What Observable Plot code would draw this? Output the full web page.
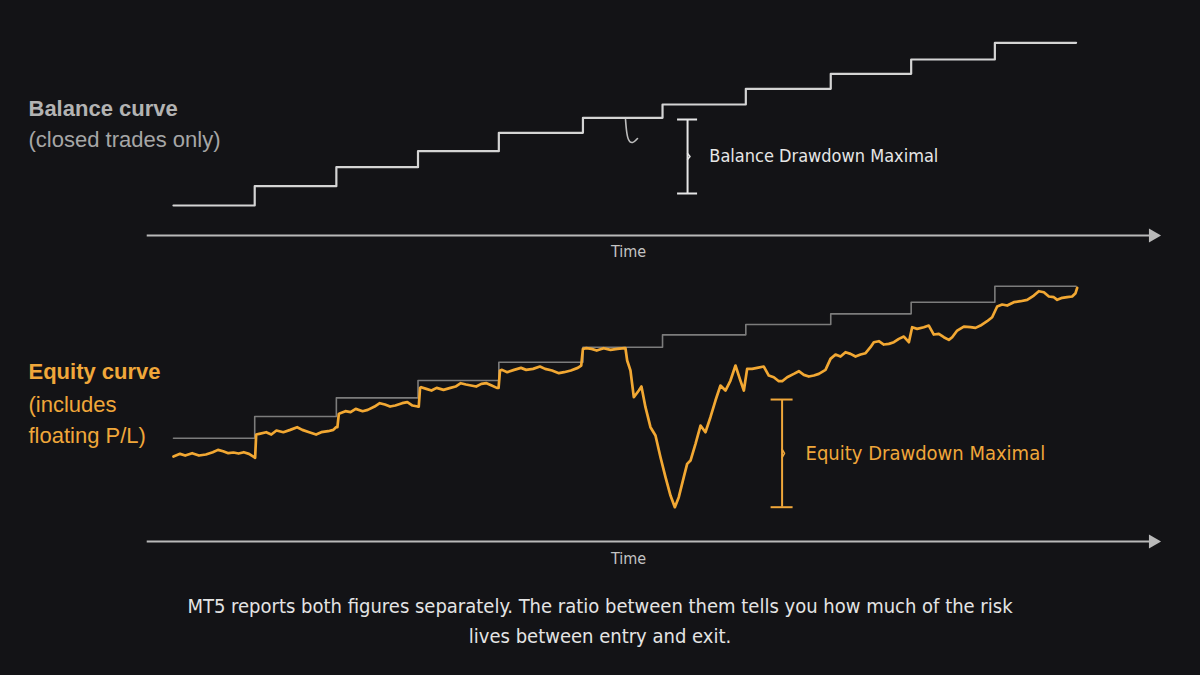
<!DOCTYPE html>
<html>
<head>
<meta charset="utf-8">
<script src="https://cdn.jsdelivr.net/npm/d3@7"></script>
<script src="https://cdn.jsdelivr.net/npm/@observablehq/plot@0.6"></script>
<style>
  html, body { margin: 0; padding: 0; background: #131316; width: 1200px; height: 675px; overflow: hidden; }
  #caption { font-family: "Liberation Sans Narrow", "DejaVu Sans Condensed", "Liberation Sans", sans-serif;
    font-size: 20px; line-height: 30px; color: #e4e4e4; text-align: center; width: 1200px; padding-top: 11px; }
</style>
</head>
<body>
<div id="topChart"></div>
<div id="bottomChart"></div>
<div id="caption">MT5 reports both figures separately. The ratio between them tells you how much of the risk<br>lives between entry and exit.</div>
<script>
// ---- data (time in trading days, money in account currency) ----
const stepTimes = [0, 9.9, 19.85, 29.8, 39.65, 49.9, 59.6, 69.75, 80.1, 89.9, 100.1];
const endTime = 110;
const balanceTop = [10000, 10580, 11150, 11630, 12180, 12630, 13030, 13500, 13950, 14380, 14880];
const balanceBottom = [10000, 10650, 11210, 11730, 12280, 12730, 13100, 13410, 13730, 14080, 14560];
const balanceHook = [[55.09, 12580], [55.21, 12250], [55.45, 11980], [55.94, 11890], [56.55, 12010]];
const equity = [
  [0, 9450], [0.8, 9530], [1.43, 9480], [2.27, 9550], [3.11, 9480], [3.95, 9510], [4.79, 9580], [5.42, 9650],
  [6.05, 9610], [6.68, 9550], [7.31, 9570], [7.94, 9540], [8.57, 9580], [9.2, 9530], [9.83, 9430], [9.95, 9410],
  [10.08, 10110], [10.45, 10130], [11.3, 10180], [11.92, 10110], [12.55, 10230], [13.39, 10180], [14.23, 10250],
  [15.07, 10330], [15.7, 10250], [16.54, 10180], [17.38, 10110], [18.01, 10180], [18.85, 10210], [19.48, 10250],
  [19.81, 10330], [19.98, 10330],
  [20.15, 10730], [20.32, 10750], [20.95, 10810], [21.58, 10780], [22.21, 10880], [23.05, 10810], [23.68, 10850],
  [24.51, 10950], [25.14, 11050], [25.77, 11010], [26.4, 10950], [27.03, 10980], [27.87, 11050], [28.5, 11080],
  [29.13, 10980], [29.76, 10950], [29.89, 10950],
  [30.05, 11510], [30.18, 11530], [30.81, 11480], [31.44, 11430], [32.07, 11510], [32.91, 11450], [33.75, 11510],
  [34.38, 11550], [35.01, 11650], [35.64, 11610], [36.26, 11580], [36.89, 11550], [37.52, 11630], [38.15, 11650],
  [38.78, 11580], [39.41, 11510], [39.62, 11510],
  [39.79, 12030], [40.04, 12050], [40.67, 11980], [41.51, 12050], [42.35, 12110], [42.98, 12050], [43.82, 12080],
  [44.66, 12150], [45.29, 12080], [46.13, 12030], [46.97, 11950], [47.6, 11980], [48.43, 12030], [49.27, 12110],
  [49.69, 12180],
  [49.9, 12680], [50.32, 12700], [50.95, 12680], [51.58, 12630], [52.42, 12700], [53.26, 12650], [54.1, 12680],
  [54.94, 12700], [55.08, 12700],
  [55.29, 12330], [55.69, 12030], [56.1, 11230], [56.71, 11430], [57.03, 11550], [57.52, 10930], [58.13, 10330],
  [58.74, 10080], [59.35, 9430], [59.96, 8830], [60.57, 8280], [61.1, 7930], [61.58, 8230], [62.19, 8830],
  [62.6, 9230], [63.01, 9330], [63.62, 9830], [64.23, 10380], [64.83, 10180], [65.44, 10630], [66.05, 11130],
  [66.66, 11580], [67.27, 11430], [67.88, 11730], [68.49, 12180], [69.02, 11780], [69.51, 11430], [69.91, 12080],
  [70.52, 12080], [71.13, 12110], [71.94, 12150], [72.55, 11880], [73.16, 11830], [73.77, 11710], [74.18, 11710],
  [74.79, 11830], [75.6, 11930], [76.21, 12010], [76.82, 11900], [77.43, 11850], [78.04, 11880], [78.65, 11930],
  [79.46, 12050], [80.07, 12380], [80.68, 12510], [81.29, 12450], [81.9, 12580], [82.51, 12530], [83.12, 12450],
  [83.73, 12510], [84.34, 12550], [84.94, 12730], [85.35, 12880], [85.96, 12910], [86.57, 12810], [87.18, 12830],
  [87.79, 12880], [88.4, 12980], [89.01, 13050], [89.62, 12880], [90.02, 13330], [90.63, 13280], [91.44, 13330],
  [92.05, 13380], [92.66, 13110], [93.27, 13130], [93.88, 13030], [94.49, 12950], [94.9, 13030], [95.51, 13230],
  [96.32, 13350], [97.13, 13330], [97.74, 13310], [98.35, 13380], [99.16, 13510], [99.77, 13630], [100.38, 13950],
  [100.99, 14010], [101.6, 13980], [102.41, 14080], [103.23, 14110], [104.04, 14150], [104.85, 14280],
  [105.46, 14410], [106.07, 14380], [106.68, 14250], [107.29, 14230], [107.7, 14150], [108.31, 14210],
  [108.91, 14230], [109.52, 14250], [109.93, 14350], [110.13, 14510]
];
const balanceDD = {t: 62.65, high: 12580, low: 10360};
const equityDD = {t: 74.17, high: 11160, low: 7930};
const axisStart = -3.2, axisEnd = 119, arrowTip = 119.37;
const labels = {
  balance: ["Balance curve", "(closed trades only)"],
  equity: ["Equity curve", "(includes", "floating P/L)"],
  time: "Time",
  balanceDD: "Balance Drawdown Maximal",
  equityDD: "Equity Drawdown Maximal"
};

// ---- styling ----
const C = {
  balance: "#d4d4d4", balanceGhost: "#7c7c7c", equity: "#f2a833", axis: "#b9b9b9",
  text: "#e6e6e6", label: "#b3b3b3", sub: "#a6a6a6", orange: "#f0a73a"
};
const narrow = "'Liberation Sans Narrow', 'DejaVu Sans Condensed', 'Liberation Sans', sans-serif";
const sans = "'Liberation Sans', Arial, sans-serif";
const xScale = {domain: [-21.08, 125.16], axis: null};

const steps = (vals) => stepTimes.map((t, i) => ({t, v: vals[i]}))
  .concat([{t: endTime, v: vals[vals.length - 1]}]);

function timeAxis(yv, labelY) {
  return [
    Plot.ruleY([yv], {x1: axisStart, x2: axisEnd, stroke: C.axis, strokeWidth: 2}),
    Plot.dot([{t: arrowTip, v: yv}], {x: "t", y: "v", symbol: "triangle", rotate: 90, r: 5.2, fill: C.axis, stroke: "none"}),
    Plot.text([labels.time], {x: 55.45, y: labelY, text: d => d, fill: "#c4c4c4", fontSize: 16, fontFamily: narrow, lineAnchor: "middle"})
  ];
}

function bracket(d, color, halfW, label, labelDx, size) {
  const mid = (d.high + d.low) / 2;
  const span = d.high - d.low;
  return [
    Plot.ruleX([d], {x: "t", y1: "low", y2: "high", stroke: color, strokeWidth: 2}),
    Plot.ruleY([d.low, d.high], {x1: d.t - halfW, x2: d.t + halfW, stroke: color, strokeWidth: 2}),
    Plot.line([[d.t, mid + span * 0.04], [d.t + 0.3, mid], [d.t, mid - span * 0.04]], {stroke: color, strokeWidth: 1.5}),
    Plot.text([label], {x: d.t + labelDx, y: mid, text: x => x, textAnchor: "start", lineAnchor: "middle",
      fill: color, fontSize: size, fontFamily: narrow})
  ];
}

const topPlot = Plot.plot({
  width: 1200, height: 270, margin: 0,
  x: xScale, y: {domain: [8050, 16150], axis: null},
  style: {background: "transparent", overflow: "visible"},
  marks: [
    ...timeAxis(9100, 8620),
    Plot.line(steps(balanceTop), {x: "t", y: "v", curve: "step-after", stroke: C.balance, strokeWidth: 2.2}),
    Plot.line(balanceHook, {curve: "natural", stroke: "#bdbdbd", strokeWidth: 1.6}),
    ...bracket(balanceDD, C.text, 1.22, labels.balanceDD, 2.65, 18),
    Plot.text([labels.balance[0]], {frameAnchor: "left", y: 12700, dx: 28, text: d => d, textAnchor: "start", lineAnchor: "bottom",
      fontWeight: "bold", fontSize: 22, fontFamily: sans, fill: C.label}),
    Plot.text([labels.balance[1]], {frameAnchor: "left", y: 11770, dx: 28, text: d => d, textAnchor: "start", lineAnchor: "bottom",
      fontSize: 22, fontFamily: sans, fill: C.sub})
  ]
});

const bottomPlot = Plot.plot({
  width: 1200, height: 310, margin: 0,
  x: xScale, y: {domain: [5731, 15031], axis: null},
  style: {background: "transparent", overflow: "visible"},
  marks: [
    ...timeAxis(6901, 6391),
    Plot.line(steps(balanceBottom), {x: "t", y: "v", curve: "step-after", stroke: C.balanceGhost, strokeWidth: 1.6}),
    Plot.line(equity, {stroke: C.equity, strokeWidth: 2.7, strokeLinejoin: "round"}),
    ...bracket(equityDD, C.orange, 1.34, labels.equityDD, 2.86, 20),
    Plot.text([labels.equity[0]], {frameAnchor: "left", y: 11776, dx: 28, text: d => d, textAnchor: "start", lineAnchor: "bottom",
      fontWeight: "bold", fontSize: 22, fontFamily: sans, fill: C.orange}),
    Plot.text([labels.equity[1]], {frameAnchor: "left", y: 10801, dx: 28, text: d => d, textAnchor: "start", lineAnchor: "bottom",
      fontSize: 22, fontFamily: sans, fill: C.orange}),
    Plot.text([labels.equity[2]], {frameAnchor: "left", y: 9871, dx: 28, text: d => d, textAnchor: "start", lineAnchor: "bottom",
      fontSize: 22, fontFamily: sans, fill: C.orange})
  ]
});

document.getElementById("topChart").appendChild(topPlot);
document.getElementById("bottomChart").appendChild(bottomPlot);
</script>
</body>
</html>
